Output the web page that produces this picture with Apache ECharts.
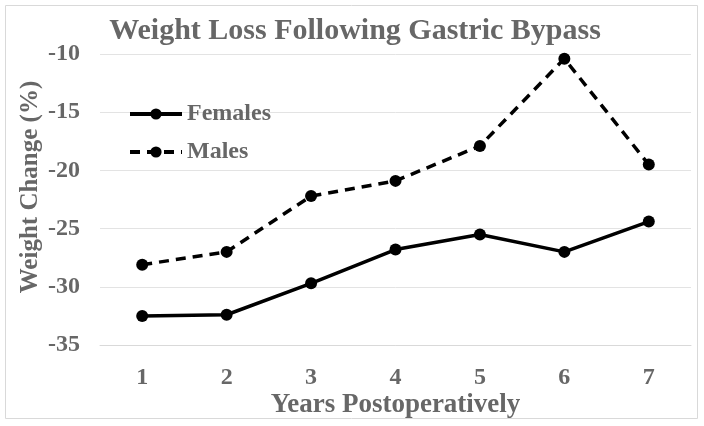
<!DOCTYPE html>
<html><head><meta charset="utf-8">
<script src="https://cdn.jsdelivr.net/npm/echarts@6/dist/echarts.min.js"></script>
<style>html,body{margin:0;padding:0;background:#fff}#c{width:704px;height:426px}</style>
</head><body><div id="c"></div>
<script>
var categories = ['1','2','3','4','5','6','7'];
var females = [-32.5, -32.4, -29.7, -26.8, -25.5, -27.0, -24.4];
var males = [-28.1, -27.0, -22.2, -20.9, -17.9, -10.4, -19.5];
var yTicks = {min: -35, max: -10, interval: 5};

var FONT = '"Liberation Serif", "Times New Roman", serif';
var GRAY = '#676767';
var chart = echarts.init(document.getElementById('c'));
chart.setOption({
  animation: false,
  graphic: [{type:'rect', shape:{x:5.5,y:5.5,width:692,height:413}, style:{fill:'none', stroke:'#d9d9d9', lineWidth:1}, silent:true}],
  title: {text: 'Weight Loss Following Gastric Bypass', left: 350, top: 11, textAlign: 'center',
    textStyle: {fontFamily: FONT, fontWeight: 'bold', fontSize: 30, color: GRAY}},
  legend: {orient: 'vertical', left: 123, top: 97, itemWidth: 52, itemHeight: 14, itemGap: 14,
    lineStyle: {width: 4},
    textStyle: {fontFamily: FONT, fontWeight: 'bold', fontSize: 24, color: GRAY},
    data: ['Females', 'Males']},
  grid: {left: 100, right: 13, top: 54, bottom: 81, containLabel: false},
  xAxis: {type: 'category', data: categories, boundaryGap: true,
    name: 'Years Postoperatively', nameLocation: 'middle', nameGap: 47, nameMoveOverlap: false,
    nameTextStyle: {fontFamily: FONT, fontWeight: 'bold', fontSize: 27, color: GRAY},
    axisLine: {show: true, lineStyle: {color: '#d9d9d9', width: 1}}, axisTick: {show: false},
    axisLabel: {fontFamily: FONT, fontWeight: 'bold', fontSize: 24, color: GRAY, margin: 21}},
  yAxis: {type: 'value', min: yTicks.min, max: yTicks.max, interval: yTicks.interval,
    name: 'Weight Change (%)', nameLocation: 'middle', nameGap: 57, nameRotate: 90, nameMoveOverlap: false,
    nameTextStyle: {fontFamily: FONT, fontWeight: 'bold', fontSize: 25, color: GRAY, padding: [0,0,0,25]},
    axisLine: {show: false}, axisTick: {show: false},
    splitLine: {lineStyle: {color: '#e3e3e3', width: 1}},
    axisLabel: {fontFamily: FONT, fontWeight: 'bold', fontSize: 24, color: GRAY, margin: 20}},
  series: [
    {name: 'Females', type: 'line', data: females, symbol: 'circle', symbolSize: 12,
      lineStyle: {color: '#000', width: 3.5}, itemStyle: {color: '#000'}},
    {name: 'Males', type: 'line', data: males, symbol: 'circle', symbolSize: 12,
      lineStyle: {color: '#000', width: 3.5, type: [10, 7]}, itemStyle: {color: '#000'}}
  ]
});
</script></body></html>
